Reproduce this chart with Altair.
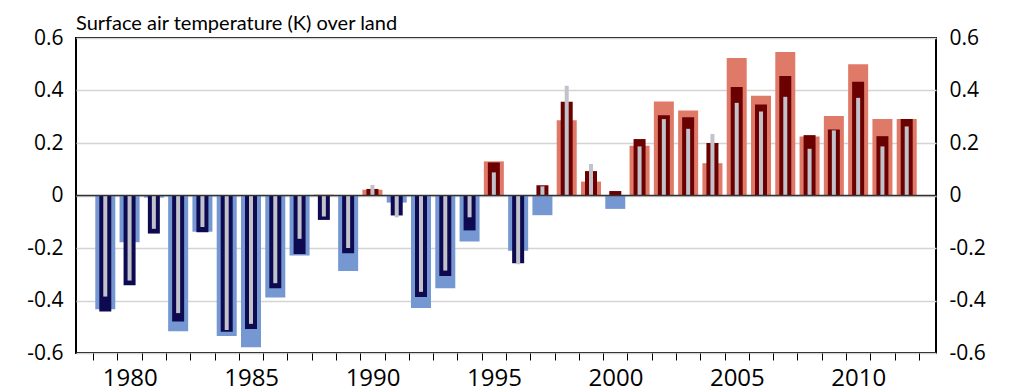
import altair as alt
import pandas as pd

years = list(range(1979, 2013))
light = [-0.433, -0.178, -0.008, -0.517, -0.138, -0.535, -0.578, -0.389, -0.229, 0.003,
         -0.288, 0.022, -0.027, -0.429, -0.353, -0.175, 0.130, -0.210, -0.075, 0.287,
         0.053, -0.051, 0.190, 0.358, 0.324, 0.123, 0.524, 0.380, 0.547, 0.225,
         0.303, 0.500, 0.291, 0.291]
dark = [-0.442, -0.342, -0.145, -0.480, -0.140, -0.519, -0.509, -0.353, -0.223, -0.093,
        -0.220, 0.025, -0.076, -0.387, -0.307, -0.133, 0.126, -0.258, 0.039, 0.357,
        0.093, 0.017, 0.215, 0.306, 0.298, 0.200, 0.413, 0.347, 0.455, 0.230,
        0.251, 0.433, 0.226, 0.291]
grey = [-0.385, -0.324, -0.127, -0.448, -0.120, -0.512, -0.489, -0.334, -0.165, -0.080,
        -0.200, 0.040, -0.083, -0.367, -0.286, -0.083, 0.088, -0.262, 0.035, 0.418,
        0.120, 0.000, 0.187, 0.291, 0.254, 0.234, 0.353, 0.320, 0.376, 0.178,
        0.248, 0.372, 0.187, 0.263]

tick_years = [y - 0.5 for y in years] + [2012.5]
y_ticks = [-0.6, -0.4, -0.2, 0, 0.2, 0.4, 0.6]

df = pd.DataFrame({"year": years, "light": light, "dark": dark, "grey": grey})

FONT = "Open Sans"
TFONT = "Lato"
W, H = 860, 315
half = W / 35 / 2

xscale = alt.Scale(domain=[1978, 2013], nice=False, zero=False)
yscale = alt.Scale(domain=[-0.6, 0.6], nice=False)

xaxis = alt.Axis(
    values=tick_years,
    labelExpr="(datum.value + 0.5) % 5 == 0 ? toString(datum.value + 0.5) : ''",
    labelOffset=half,
    tickSize=7, tickColor="black", tickWidth=1,
    domain=False, grid=False, title=None,
    labelFont=FONT, labelFontSize=24, labelColor="black", labelPadding=6,
)
ylab = "datum.value == 0 ? '0' : (datum.value < 0 ? '-' : '') + format(abs(datum.value), '.1f')"
yaxis_left = alt.Axis(
    values=y_ticks, labelExpr=ylab, ticks=False, domain=False, title=None,
    grid=True, gridColor="#d4d4d4", gridWidth=1.5,
    labelFont=FONT, labelFontSize=21, labelColor="black", labelPadding=13,
)
yaxis_right = alt.Axis(
    orient="right", values=y_ticks, labelExpr=ylab, ticks=False, domain=False,
    title=None, grid=False,
    labelFont=FONT, labelFontSize=21, labelColor="black", labelPadding=13,
)

x = alt.X("year:Q", scale=xscale, axis=xaxis)
base = alt.Chart(df)

light_layer = base.mark_bar(size=20).encode(
    x=x,
    y=alt.Y("light:Q", scale=yscale, axis=yaxis_left),
    y2=alt.datum(0),
    color=alt.condition("datum.light < 0", alt.value("#7698d2"), alt.value("#e07a68")),
)
dark_layer = base.mark_bar(size=12).encode(
    x=x,
    y=alt.Y("dark:Q", scale=yscale, axis=None),
    y2=alt.datum(0),
    color=alt.condition("datum.dark < 0", alt.value("#0d0a52"), alt.value("#6b0000")),
)
grey_layer = base.mark_bar(size=4, color="#c2c2ca").encode(
    x=x,
    y=alt.Y("grey:Q", scale=yscale, axis=None),
    y2=alt.datum(0),
)
zero_layer = alt.Chart(pd.DataFrame({"z": [0]})).mark_rule(color="#333333", strokeWidth=1.5).encode(
    y=alt.Y("z:Q", scale=yscale, axis=yaxis_right),
)

chart = alt.layer(light_layer, dark_layer, grey_layer, zero_layer).resolve_axis(
    y="independent"
).properties(
    width=W, height=H,
    title=alt.TitleParams(
        "Surface air temperature (K) over land", anchor="start", font=TFONT,
        fontSize=20, fontWeight="normal", color="black", offset=-7, frame="group",
    ),
    autosize=alt.AutoSizeParams(type="none"),
    padding={"left": 68, "top": 30, "right": 66, "bottom": 39},
).configure_view(
    stroke="black", strokeWidth=2
)

chart.save("out.html", embed_options={"renderer": "svg", "actions": False})
